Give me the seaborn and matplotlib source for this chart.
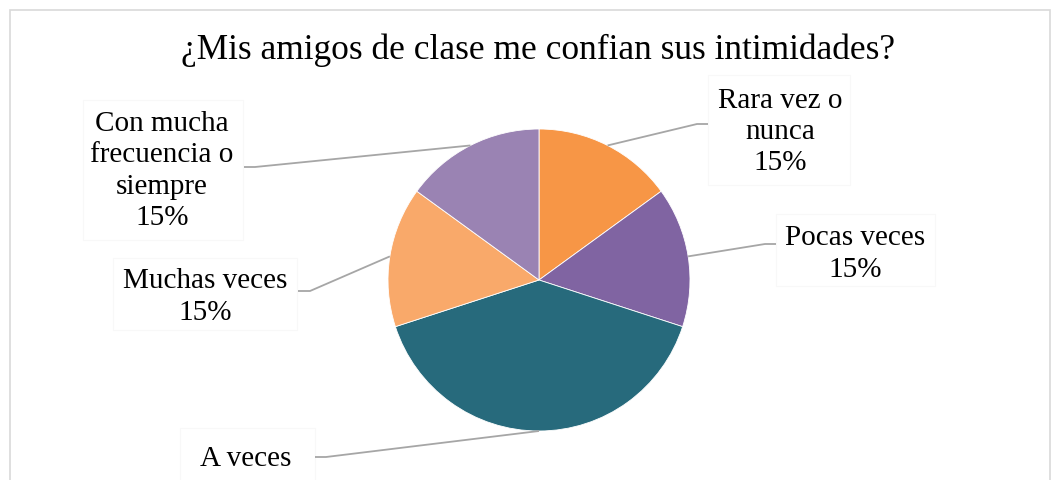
import numpy as np
import matplotlib
matplotlib.use("Agg")
import matplotlib.pyplot as plt
import seaborn as sns

# data
categories = ["Rara vez o\nnunca", "Pocas veces", "A veces", "Muchas veces",
              "Con mucha\nfrecuencia o\nsiempre"]
values = [15, 15, 40, 15, 15]
colors = ["#F79646", "#8064A2", "#276A7C", "#F9A96A", "#9A83B3"]
title = "¿Mis amigos de clase me confian sus intimidades?"

sns.set_theme(style="white")
plt.rcParams["font.family"] = ["Liberation Serif", "DejaVu Serif"]

W, H = 1057, 480
fig = plt.figure(figsize=(W / 100, H / 100), dpi=100)
ax = fig.add_axes([0, 0, 1, 1])

cx, cy, r = 539, H - 280, 151
wedges, _ = ax.pie(values, colors=colors, startangle=90, counterclock=False,
                   center=(cx, cy), radius=r,
                   wedgeprops=dict(linewidth=0.6, edgecolor="white"))
ax.set_xlim(0, W)
ax.set_ylim(0, H)
ax.set_aspect("auto")
ax.axis("off")

# chart border
ax.add_patch(plt.Rectangle((10, -20), 1040, H - 10 + 20, fill=False,
                           edgecolor="#d9d9d9", linewidth=1.2, clip_on=False))

ax.text(538, H - 50, title, ha="center", va="center", fontsize=25.5, color="black")

# label layout: text centre, elbow point, box-edge point, box extent (pixels from top)
layout = [
    dict(txt=(780, 132), elbow=(697, 124), end=(708, 124), box=(708, 75, 850, 185), pct=True),
    dict(txt=(855, 254), elbow=(765, 244), end=(776, 244), box=(776, 214, 935, 286), pct=True),
    dict(txt=(246, 459), elbow=(326, 457), end=(315, 457), box=(180, 428, 315, 530), pct=False),
    dict(txt=(205, 297), elbow=(310, 291), end=(298, 291), box=(113, 258, 297, 330), pct=True),
    dict(txt=(162, 171), elbow=(255, 167), end=(244, 167), box=(83, 100, 243, 240), pct=True),
]

total = sum(values)
for w, cat, v, lay in zip(wedges, categories, values, layout):
    mid = np.deg2rad((w.theta1 + w.theta2) / 2)
    ax_pt = (cx + r * np.cos(mid), cy + r * np.sin(mid))
    ex, ey = lay["elbow"]
    nx, ny = lay["end"]
    ax.plot([ax_pt[0], ex, nx], [ax_pt[1], H - ey, H - ny], color="#a6a6a6",
            linewidth=1.3, solid_capstyle="butt")
    x0, y0, x1, y1 = lay["box"]
    ax.add_patch(plt.Rectangle((x0, H - y1), x1 - x0, y1 - y0, facecolor="white",
                               edgecolor="#f8f8f8", linewidth=0.8, clip_on=True))
    tx, ty = lay["txt"]
    # the bottom label's percentage falls below the visible chart area
    label = f"{cat}\n{v / total * 100:.0f}%" if lay["pct"] else cat
    ax.text(tx, H - ty, label, ha="center", va="center",
            fontsize=21, linespacing=1.27, color="black")

fig.savefig("out.png", dpi=100, facecolor="white")
